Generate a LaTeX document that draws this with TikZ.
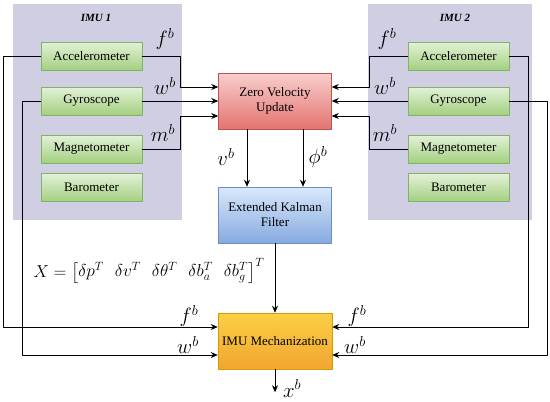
\documentclass[tikz,border=0pt]{standalone}
\usepackage{amsmath}
\usepackage{fontspec}
\setmainfont{Liberation Serif}
\usetikzlibrary{arrows.meta}
\definecolor{panelC}{HTML}{D0CEE2}
\definecolor{greenT}{HTML}{E3F1D8}
\definecolor{greenB}{HTML}{A3D080}
\definecolor{greenD}{HTML}{82B366}
\definecolor{redT}{HTML}{F8CECC}
\definecolor{redB}{HTML}{E47470}
\definecolor{redD}{HTML}{B85450}
\definecolor{blueT}{HTML}{DAE8FC}
\definecolor{blueB}{HTML}{86AADF}
\definecolor{blueD}{HTML}{6C8EBF}
\definecolor{yelT}{HTML}{FBCF45}
\definecolor{yelB}{HTML}{F1A630}
\definecolor{yelD}{HTML}{D79B00}
\begin{document}
\begin{tikzpicture}[x=1pt,y=-1pt,>={Stealth[length=7pt,width=6pt]},line join=round,line cap=round]
	\tikzset{panel/.style={fill=panelC,minimum width=#1,minimum height=216pt,inner sep=0pt},
		title style/.style={font=\bfseries\itshape\fontsize{11}{13}\selectfont},
		sensor/.style={draw=greenD,line width=0.5pt,top color=greenT,bottom color=greenB,minimum width=101pt,minimum height=28pt,inner sep=0pt,font=\fontsize{13}{15}\selectfont},
		procbox/.style={line width=0.5pt,minimum width=113pt,minimum height=56pt,inner sep=0pt,align=center,font=\fontsize{13}{15}\selectfont},
		sig/.style={font=\fontsize{20}{22}\selectfont,inner sep=0pt},
		flow/.style={->,line width=0.8pt}}
	\useasboundingbox (0,0) rectangle (550,402);
	%% Hai khoi IMU
	\node[panel=169pt] (imu1) at (97.5,112) {};
	\node[panel=164pt] (imu2) at (450,112) {};
	\node[title style] (t1) at (96,18) {IMU 1};
	\node[title style] (t2) at (455,18) {IMU 2};
	\node[sensor] (acc1) at (91.5,56) {Accelerometer};
	\node[sensor] (gyr1) at (91.5,101) {Gyroscope};
	\node[sensor] (mag1) at (91.5,149) {Magnetometer};
	\node[sensor] (bar1) at (91.5,187.5) {Barometer};
	\node[sensor] (acc2) at (458.5,56) {Accelerometer};
	\node[sensor] (gyr2) at (458.5,101) {Gyroscope};
	\node[sensor] (mag2) at (458.5,149) {Magnetometer};
	\node[sensor] (bar2) at (458.5,187.5) {Barometer};
	%% Cac khoi xu ly
	\node[procbox,draw=redD,top color=redT,bottom color=redB] (zvu) at (275,101) {Zero Velocity\\Update};
	\node[procbox,draw=blueD,top color=blueT,bottom color=blueB] (ekf) at (275,215) {Extended Kalman\\Filter};
	\node[procbox,draw=yelD,top color=yelT,bottom color=yelB,minimum width=114pt] (mech) at (275,341) {IMU Mechanization};
	%% Vao ZUPT
	\draw[flow] (acc1.east) -- ++(38.5,0) |- ([yshift=14pt]zvu.west);
	\draw[flow] (gyr1.east) -- (zvu.west);
	\draw[flow] (mag1.east) -- ++(38.5,0) |- ([yshift=-15pt]zvu.west);
	\draw[flow] (acc2.west) -- ++(-38,0) |- ([yshift=14pt]zvu.east);
	\draw[flow] (gyr2.west) -- (zvu.east);
	\draw[flow] (mag2.west) -- ++(-38,0) |- ([yshift=-15pt]zvu.east);
	\draw[flow] ([xshift=-28pt]zvu.south) -- ([xshift=-28pt]ekf.north);
	\draw[flow] ([xshift=28pt]zvu.south) -- ([xshift=28pt]ekf.north);
	\draw[flow] (ekf.south) -- (mech.north);
	%% Vao co cau IMU
	\draw[flow] (acc1.west) -- ++(-37,0) |- ([yshift=14pt]mech.west);
	\draw[flow] (gyr1.west) -- ++(-18,0) |- ([yshift=-14pt]mech.west);
	\draw[flow] (acc2.east) -- ++(19,0) |- ([yshift=14pt]mech.east);
	\draw[flow] (gyr2.east) -- ++(38,0) |- ([yshift=-14pt]mech.east);
	\draw[flow] (mech.south) -- ++(0,23) coordinate (out);
	%% Nhan tin hieu
	\node[sig] (f1) at (165,39) {$f^b$};
	\node[sig] (w1) at (165,86) {$w^b$};
	\node[sig] (m1) at (163,133) {$m^b$};
	\node[sig] (f2) at (387,39) {$f^b$};
	\node[sig] (w2) at (385,86) {$w^b$};
	\node[sig] (m2) at (385,133) {$m^b$};
	\node[sig] (vb) at (226,157) {$v^b$};
	\node[sig] (phib) at (318,157) {$\phi^b$};
	\node[sig] (f3) at (189,316) {$f^b$};
	\node[sig] (w3) at (188,345) {$w^b$};
	\node[sig] (f4) at (357,316) {$f^b$};
	\node[sig] (w4) at (355,345) {$w^b$};
	\node[sig,anchor=west] (xb) at ([xshift=8pt,yshift=4pt]out) {$x^b$};
	\node[font=\fontsize{17}{20}\selectfont,inner sep=0pt] (state) at (149,271) {\setlength\arraycolsep{5.5pt}$X=\begin{bmatrix}\delta p^T & \delta v^T & \delta\theta^T & \delta b_a^T & \delta b_g^T\end{bmatrix}^T$};
\end{tikzpicture}
\end{document}
